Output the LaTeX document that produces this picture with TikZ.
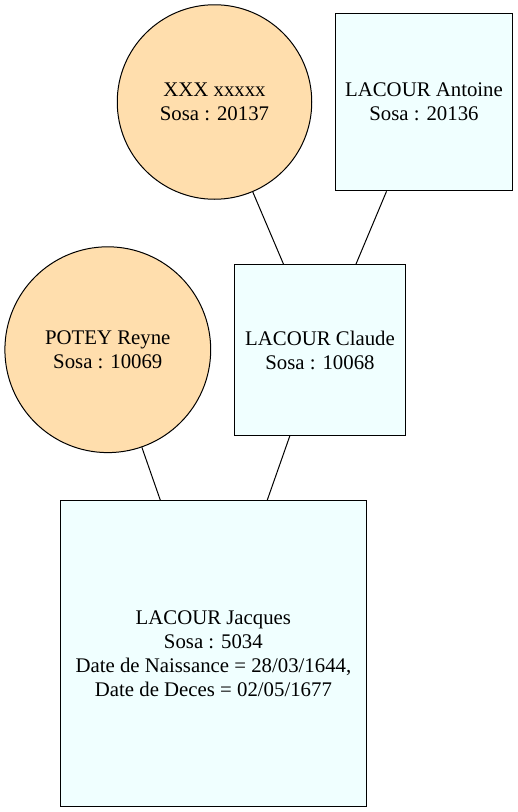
\documentclass[tikz,border=0pt]{standalone}
\usepackage{fontspec}
\setmainfont{Liberation Serif}
\definecolor{femme}{HTML}{FFDEAD}
\definecolor{homme}{HTML}{F0FFFF}
\begin{document}
\begin{tikzpicture}[x=1pt,y=-1pt,
  lbl/.style={align=center,inner sep=0pt,font=\fontsize{20.8}{24}\selectfont},
  fnode/.style={lbl,circle,draw=black,line width=1pt,fill=femme},
  mnode/.style={lbl,rectangle,draw=black,line width=1pt,fill=homme},
  link/.style={draw=black,line width=1pt}]
\useasboundingbox (0,0) rectangle (518,812);
\node[fnode,minimum size=194.5pt] (xxx) at (214.5,102) {XXX xxxxx\\Sosa : 20137};
\node[mnode,minimum width=177.4pt,minimum height=177.7pt] (antoine) at (424,102) {LACOUR Antoine\\Sosa : 20136};
\node[mnode,minimum width=171.2pt,minimum height=170.6pt] (claude) at (320,350) {LACOUR Claude\\Sosa : 10068};
\node[fnode,minimum size=205.8pt] (potey) at (107.8,349.7) {POTEY Reyne\\Sosa : 10069};
\node[mnode,minimum width=305.3pt,minimum height=305.3pt] (jacques) at (213.4,653.4) {LACOUR Jacques\\Sosa : 5034\\Date de Naissance = 28/03/1644,\\Date de Deces = 02/05/1677};
\draw[link] (xxx) -- (claude);
\draw[link] (antoine) -- (claude);
\draw[link] (potey) -- (jacques);
\draw[link] (claude) -- (jacques);
\end{tikzpicture}
\end{document}
